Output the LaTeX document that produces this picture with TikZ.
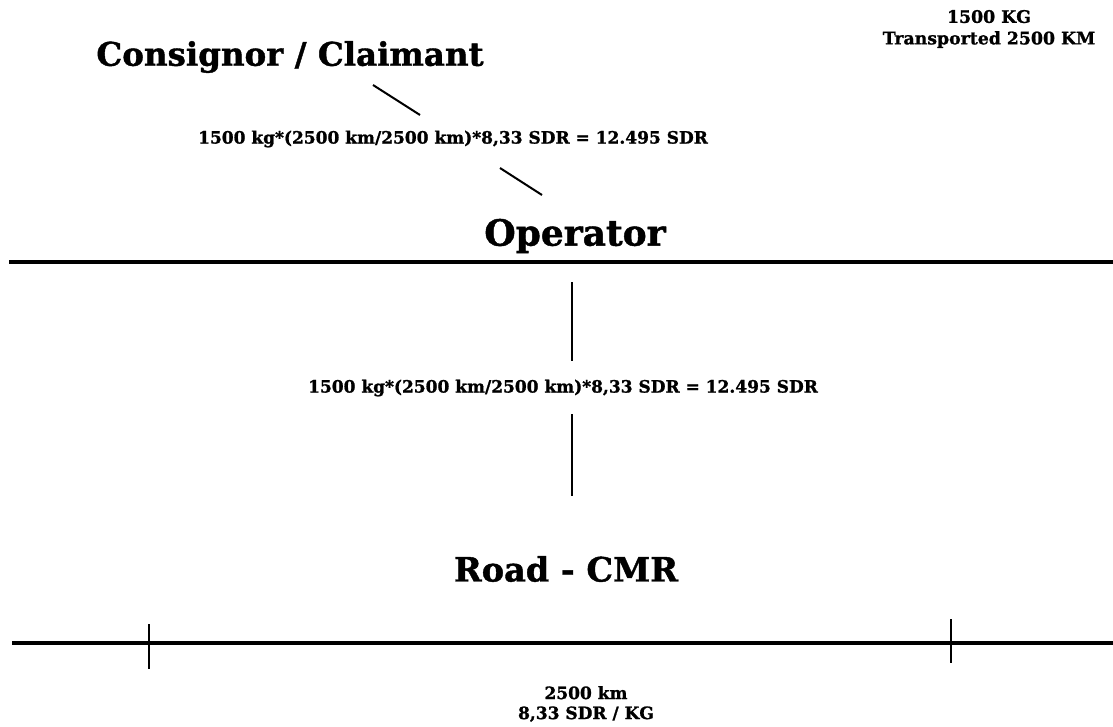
\documentclass[tikz,border=0pt]{standalone}
\usepackage{fontspec}
\setmainfont[FakeBold=1.2]{DejaVu Serif}
\begin{document}
\begin{tikzpicture}[x=1pt,y=-1pt,
  title/.style={font=\bfseries\fontsize{32.5}{38}\selectfont, inner sep=0pt},
  formula/.style={font=\bfseries\fontsize{17}{20}\selectfont, inner sep=0pt},
  note/.style={font=\bfseries\fontsize{17.3}{21.5}\selectfont, inner sep=0pt, align=center},
  bnote/.style={font=\bfseries\fontsize{17}{20}\selectfont, inner sep=0pt, align=center},
  link/.style={line width=2pt},
  bar/.style={line width=3.4pt},
  tick/.style={line width=2.2pt}]
\useasboundingbox (0,0) rectangle (1113,727);
\node[title] (consignor) at (290,57) {Consignor / Claimant};
\node[formula] (f1) at (453,139) {1500 kg*(2500 km/2500 km)*8,33 SDR = 12.495 SDR};
\node[title, font=\bfseries\fontsize{36}{42}\selectfont] (operator) at (575,236) {Operator};
\node[formula] (f2) at (563,388) {1500 kg*(2500 km/2500 km)*8,33 SDR = 12.495 SDR};
\node[title, font=\bfseries\fontsize{33.5}{40}\selectfont] (road) at (566,569) {Road - CMR};
\node[note] (info) at (989,29) {1500 KG\\Transported 2500 KM};
\node[bnote] (dist) at (586,704) {2500 km\\8,33 SDR / KG};
\coordinate (a1) at (373,85); \coordinate (a2) at (420,115);
\coordinate (b1) at (500,168); \coordinate (b2) at (542,195);
\draw[link] (a1) -- (a2);
\draw[link] (b1) -- (b2);
\coordinate (l1) at (9,262); \coordinate (l2) at (1113,262);
\draw[bar] (l1) -- (l2);
\coordinate (v1) at (572,282); \coordinate (v2) at (572,361);
\coordinate (v3) at (572,414); \coordinate (v4) at (572,496);
\draw[link] (v1) -- (v2);
\draw[link] (v3) -- (v4);
\coordinate (r1) at (12,643); \coordinate (r2) at (1113,643);
\draw[bar] (r1) -- (r2);
\coordinate (t1) at (149,624); \coordinate (t2) at (149,669);
\coordinate (t3) at (951,619); \coordinate (t4) at (951,663);
\draw[tick] (t1) -- (t2);
\draw[tick] (t3) -- (t4);
\end{tikzpicture}
\end{document}
